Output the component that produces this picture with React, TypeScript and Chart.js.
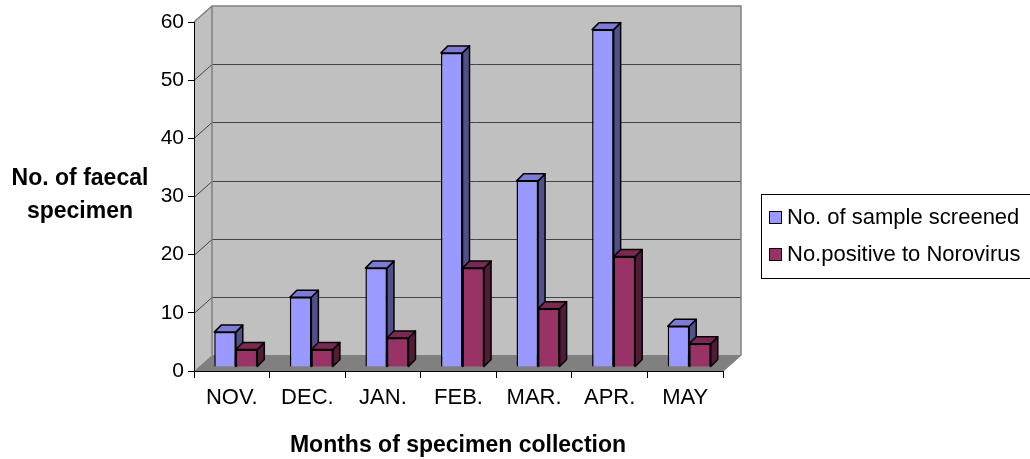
import React, { useEffect, useRef } from "react";
import { Chart, registerables } from "chart.js";

Chart.register(...registerables);

const categories = ["NOV.", "DEC.", "JAN.", "FEB.", "MAR.", "APR.", "MAY"];
const screened = [6, 12, 17, 54, 32, 58, 7];
const positive = [3, 3, 5, 17, 10, 19, 4];
const seriesNames = ["No. of sample screened", "No.positive to Norovirus"];
const yTitleLines = ["No. of faecal", "specimen"];
const xTitle = "Months of specimen collection";

const FRONT = ["#9999FF", "#993366"];
const SIDE = ["#50508A", "#521B37"];
const TOP = ["#7C7CD6", "#7A2952"];

const WALL_DX = 18;
const WALL_DY = -16;
const BAR_DX = 4;
const BAR_DY = -4;
const DEPTH = 7;
const SANS = "'Liberation Sans', Arial, sans-serif";

function poly(ctx: CanvasRenderingContext2D, pts: number[][]) {
  ctx.beginPath();
  ctx.moveTo(pts[0][0], pts[0][1]);
  for (let i = 1; i < pts.length; i++) ctx.lineTo(pts[i][0], pts[i][1]);
  ctx.closePath();
}

const threeD = {
  id: "threeD",
  beforeDraw(chart: any) {
    const { ctx, chartArea } = chart;
    const ys = chart.scales.y;
    const L = chartArea.left;
    const R = chartArea.right;
    const yTop = ys.getPixelForValue(60);
    const y0 = ys.getPixelForValue(0);
    ctx.save();
    ctx.fillStyle = "#C0C0C0";
    poly(ctx, [[L, yTop], [L + WALL_DX, yTop + WALL_DY], [L + WALL_DX, y0 + WALL_DY], [L, y0]]);
    ctx.fill();
    ctx.fillRect(L + WALL_DX, yTop + WALL_DY, R - L, y0 - yTop);
    ctx.fillStyle = "#808080";
    poly(ctx, [[L, y0], [L + WALL_DX, y0 + WALL_DY], [R + WALL_DX, y0 + WALL_DY], [R, y0]]);
    ctx.fill();
    ctx.lineWidth = 1;
    for (let v = 10; v <= 50; v += 10) {
      const y = Math.round(ys.getPixelForValue(v)) + 0.5;
      ctx.strokeStyle = "#444";
      ctx.beginPath();
      ctx.moveTo(L, y);
      ctx.lineTo(L + WALL_DX, y + WALL_DY);
      ctx.lineTo(R + WALL_DX, y + WALL_DY);
      ctx.stroke();
    }
    ctx.strokeStyle = "#808080";
    ctx.lineWidth = 1.5;
    ctx.beginPath();
    ctx.moveTo(L, yTop);
    ctx.lineTo(L + WALL_DX, yTop + WALL_DY);
    ctx.lineTo(R + WALL_DX, yTop + WALL_DY);
    ctx.lineTo(R + WALL_DX, y0 + WALL_DY);
    ctx.lineTo(R, y0);
    ctx.stroke();
    ctx.beginPath();
    ctx.moveTo(L + WALL_DX, yTop + WALL_DY);
    ctx.lineTo(L + WALL_DX, y0 + WALL_DY);
    ctx.stroke();
    ctx.restore();
  },
  beforeDatasetsDraw(chart: any) {
    chart.ctx.save();
    chart.ctx.translate(BAR_DX, BAR_DY);
  },
  afterDatasetsDraw(chart: any) {
    const ctx = chart.ctx;
    const drawFaces = (di: number) => {
      const meta = chart.getDatasetMeta(di);
      meta.data.forEach((el: any) => {
        const p = el.getProps(["x", "y", "base", "width"], true);
        const l = p.x - p.width / 2;
        const r = p.x + p.width / 2;
        const t = Math.min(p.y, p.base);
        const b = Math.max(p.y, p.base);
        ctx.lineWidth = 1.5;
        ctx.strokeStyle = "#000";
        ctx.lineJoin = "round";
        ctx.fillStyle = SIDE[di];
        poly(ctx, [[r, t], [r + DEPTH, t - DEPTH], [r + DEPTH, b - DEPTH], [r, b]]);
        ctx.fill();
        ctx.stroke();
        ctx.fillStyle = TOP[di];
        poly(ctx, [[l, t], [l + DEPTH, t - DEPTH], [r + DEPTH, t - DEPTH], [r, t]]);
        ctx.fill();
        ctx.stroke();
      });
    };
    drawFaces(0);
    const meta1 = chart.getDatasetMeta(1);
    meta1.data.forEach((el: any) => el.draw(ctx, chart.chartArea));
    drawFaces(1);
    ctx.restore();
  },
  afterDraw(chart: any) {
    const ctx = chart.ctx;
    ctx.save();
    ctx.fillStyle = "#000";
    ctx.font = `bold 23px ${SANS}`;
    ctx.textAlign = "center";
    ctx.textBaseline = "alphabetic";
    ctx.fillText(yTitleLines[0], 80, 185);
    ctx.fillText(yTitleLines[1], 80, 218);
    ctx.fillText(xTitle, 458, 452);
    ctx.strokeStyle = "#000";
    ctx.lineWidth = 1;
    ctx.strokeRect(761.5, 194.5, 290, 84);
    ctx.font = `22px ${SANS}`;
    ctx.textAlign = "left";
    ctx.textBaseline = "middle";
    const rows = [217, 254];
    rows.forEach((cy, i) => {
      ctx.fillStyle = FRONT[i];
      ctx.fillRect(769, cy - 6, 12, 12);
      ctx.strokeStyle = "#000";
      ctx.strokeRect(769.5, cy - 5.5, 12, 12);
      ctx.fillStyle = "#000";
      ctx.fillText(seriesNames[i], 787, cy + 1);
    });
    ctx.restore();
  },
};

export default function App() {
  const ref = useRef<HTMLCanvasElement>(null);
  useEffect(() => {
    if (!ref.current) return;
    const chart = new Chart(ref.current, {
      type: "bar",
      data: {
        labels: categories,
        datasets: [
          {
            label: seriesNames[0],
            data: screened,
            backgroundColor: FRONT[0],
            borderColor: "#000",
            borderWidth: 1.5,
            clip: false as any,
          },
          {
            label: seriesNames[1],
            data: positive,
            backgroundColor: FRONT[1],
            borderColor: "#000",
            borderWidth: 1.5,
            clip: false as any,
          },
        ],
      },
      options: {
        animation: false,
        responsive: false,
        devicePixelRatio: 1,
        layout: { padding: { left: 0, top: 22, right: 307, bottom: 38 } },
        datasets: { bar: { categoryPercentage: 0.57, barPercentage: 1.0 } },
        plugins: { legend: { display: false }, tooltip: { enabled: false } },
        scales: {
          x: {
            grid: { display: true, drawOnChartArea: false, drawTicks: true, tickLength: 7, color: "#000", offset: true },
            border: { display: true, color: "#000", width: 1 },
            ticks: { color: "#000", font: { family: SANS, size: 22 }, padding: 7, autoSkip: false, maxRotation: 0 },
            afterFit: (s: any) => { s.height = 50; },
          },
          y: {
            min: 0,
            max: 60,
            grid: { display: true, drawOnChartArea: false, drawTicks: true, tickLength: 6, color: "#000" },
            border: { display: true, color: "#000", width: 1 },
            ticks: { stepSize: 10, color: "#000", font: { family: SANS, size: 21 }, padding: 4 },
            afterFit: (s: any) => { s.width = 194; },
          },
        },
      },
      plugins: [threeD],
    });
    return () => chart.destroy();
  }, []);
  return (
    <div style={{ position: "fixed", left: 0, top: 0, width: 1030, height: 459, background: "#fff" }}>
      <canvas ref={ref} width={1030} height={459} style={{ width: 1030, height: 459 }} />
    </div>
  );
}
